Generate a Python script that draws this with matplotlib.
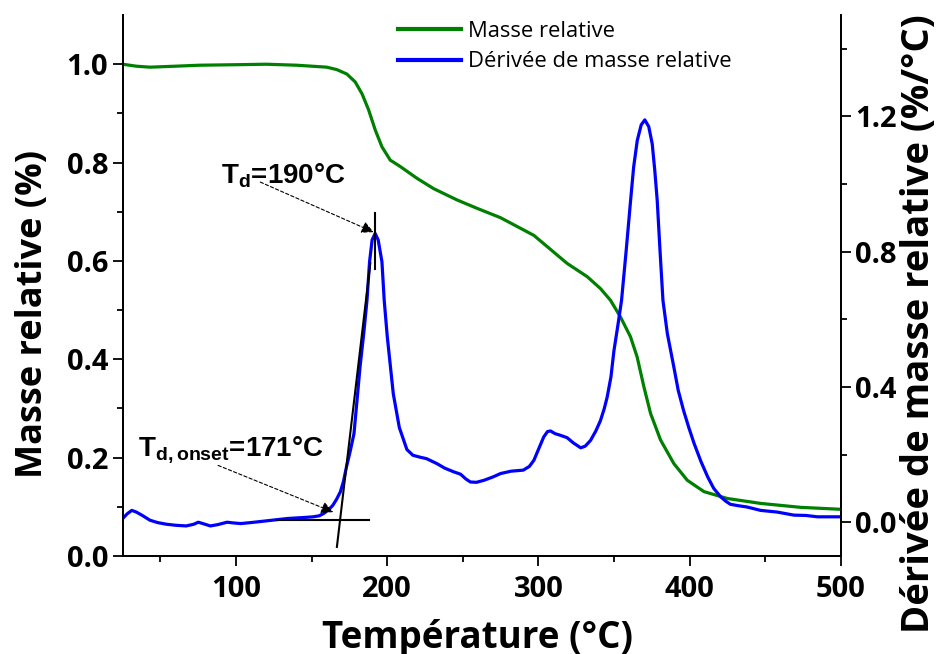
import matplotlib
matplotlib.use("Agg")
import matplotlib.pyplot as plt
from matplotlib.lines import Line2D

plt.rcParams['font.family'] = ['Open Sans', 'DejaVu Sans']
plt.rcParams['mathtext.fontset'] = 'custom'
plt.rcParams['mathtext.bf'] = 'Liberation Sans:bold'
plt.rcParams['mathtext.rm'] = 'Liberation Sans'

# masse relative (axe gauche)
temp_mass = [25, 34, 43, 60, 76, 100, 120, 140, 160, 166.7, 173.3, 178.8, 183.3, 187.7,
             192.1, 196.5, 202, 208.6, 219.7, 230.7, 246.2, 259.4, 274.9, 297, 319,
             332.3, 341, 347.7, 354.3, 360.9, 365.3, 369.8, 374.2, 380.8, 389.6, 398.5,
             409.5, 425, 447, 473.5, 500]
mass = [1.0, 0.996, 0.994, 0.996, 0.998, 0.999, 1.0, 0.998, 0.994, 0.989, 0.98, 0.964,
        0.94, 0.907, 0.866, 0.832, 0.805, 0.792, 0.768, 0.747, 0.724, 0.707, 0.688,
        0.652, 0.595, 0.568, 0.544, 0.52, 0.486, 0.446, 0.405, 0.344, 0.29, 0.236,
        0.188, 0.154, 0.131, 0.117, 0.107, 0.099, 0.095]

# derivee (axe droit)
temp_deriv = [25, 28, 31, 34, 38, 43, 48, 54, 60, 67, 72, 75, 78, 83, 88, 94, 98, 103,
              110, 120, 134, 145, 151, 155, 158, 161, 164, 166.5, 169, 171, 173, 175.5,
              178, 180, 182, 184.5, 186.6, 188.3, 190, 192, 194, 196.5, 198, 200, 204,
              208, 213, 217, 222, 226, 233, 238, 244, 248.5, 252, 255, 259, 264, 270,
              275, 282, 290, 294, 297, 300, 303.5, 306, 308, 311, 314.6, 319, 323, 328,
              331, 334.5, 338, 341, 343.5, 345.5, 348, 350, 352.5, 355, 358, 361, 363,
              365.4, 368, 370.4, 373, 375.3, 377, 378.6, 380.5, 382.4, 385.3, 389.6,
              392.5, 396, 399.5, 403, 407.5, 412, 416, 420.6, 424, 427, 432, 438, 447,
              458, 469, 477, 484.6, 500]
deriv = [0.011, 0.025, 0.035, 0.030, 0.02, 0.006, -0.001, -0.006, -0.009, -0.011, -0.006,
         0.0, -0.004, -0.011, -0.007, 0.0, -0.002, -0.004, -0.001, 0.004, 0.011, 0.014,
         0.016, 0.019, 0.026, 0.036, 0.05, 0.068, 0.09, 0.12, 0.163, 0.21, 0.262, 0.36,
         0.459, 0.56, 0.656, 0.77, 0.835, 0.854, 0.835, 0.77, 0.656, 0.55, 0.38, 0.28,
         0.215, 0.198, 0.192, 0.188, 0.173, 0.16, 0.149, 0.142, 0.128, 0.119, 0.118,
         0.124, 0.134, 0.144, 0.151, 0.154, 0.165, 0.183, 0.215, 0.252, 0.268, 0.27,
         0.262, 0.257, 0.25, 0.235, 0.22, 0.225, 0.242, 0.27, 0.30, 0.335, 0.37, 0.43,
         0.508, 0.58, 0.656, 0.80, 0.952, 1.05, 1.129, 1.175, 1.19, 1.17, 1.119, 1.04,
         0.952, 0.80, 0.656, 0.558, 0.459, 0.39, 0.331, 0.28, 0.233, 0.18, 0.134, 0.10,
         0.075, 0.062, 0.053, 0.049, 0.045, 0.035, 0.03, 0.021, 0.02, 0.016, 0.016]

# constructions graphiques (Td, onset)
base_x = [127, 188]
base_y = [0.008, 0.008]
tang_x = [166.7, 188.8]
tang_y = [-0.073, 0.766]
peak_x = [192, 192]
peak_y = [0.75, 0.915]

fig = plt.figure(figsize=(9.49, 6.54), dpi=100)
ax = fig.add_axes([0.1293, 0.1498, 0.7566, 0.8272])
ax2 = ax.twinx()

ax.plot(temp_mass, mass, color='green', lw=2.3)
ax2.plot(temp_deriv, deriv, color='blue', lw=2.3)
for xs, ys in [(base_x, base_y), (tang_x, tang_y), (peak_x, peak_y)]:
    ax2.plot(xs, ys, color='black', lw=1.5)

ax.set_xlim(25, 500)
ax.set_ylim(0, 1.1)
ax2.set_ylim(-0.1, 1.5)
ax.set_xticks([100, 200, 300, 400, 500])
ax.set_xticks([50, 150, 250, 350, 450], minor=True)
ax.set_yticks([0.0, 0.2, 0.4, 0.6, 0.8, 1.0])
ax.set_yticks([0.1, 0.3, 0.5, 0.7, 0.9], minor=True)
ax2.set_yticks([0.0, 0.4, 0.8, 1.2])
ax2.set_yticks([0.2, 0.6, 1.0, 1.4], minor=True)
ax.yaxis.set_major_formatter(matplotlib.ticker.FormatStrFormatter('%.1f'))
ax2.yaxis.set_major_formatter(matplotlib.ticker.FormatStrFormatter('%.1f'))

for a in (ax, ax2):
    a.spines['top'].set_visible(False)
    for s in a.spines.values():
        s.set_linewidth(1.3)
    a.tick_params(which='major', length=7, width=1.3, direction='out', labelsize=21)
    a.tick_params(which='minor', length=4, width=1.3, direction='out')
    for lab in a.get_xticklabels() + a.get_yticklabels():
        lab.set_fontweight('bold')
ax.tick_params(axis='x', which='major', pad=7)

ax.set_xlabel('Température (°C)', fontsize=26.5, fontweight='bold')
ax.set_ylabel('Masse relative (%)', fontsize=26, fontweight='bold')
ax2.set_ylabel('Dérivée de masse relative (%/°C)', fontsize=27.5, fontweight='bold')
ax.xaxis.set_label_coords(0.494, -0.116)
ax.yaxis.set_label_coords(-0.1, 0.447)
ax2.yaxis.set_label_coords(1.083, 0.43)

# annotations
ax2.annotate('', xy=(191, 0.858), xytext=(116, 1.006),
             arrowprops=dict(arrowstyle='-|>', color='black', lw=0.8,
                             linestyle=(0, (3, 2)), mutation_scale=18, shrinkA=0, shrinkB=0))
ax2.text(90.3, 1.003, r'$\mathbf{T_d}$=190°C', fontsize=20, fontweight='bold',
         family='Liberation Sans', va='baseline', ha='left')
ax2.annotate('', xy=(164.3, 0.03), xytext=(88.1, 0.168),
             arrowprops=dict(arrowstyle='-|>', color='black', lw=0.8,
                             linestyle=(0, (3, 2)), mutation_scale=18, shrinkA=0, shrinkB=0))
ax2.text(35.1, 0.198, r'$\mathbf{T_{d,onset}}$=171°C', fontsize=20, fontweight='bold',
         family='Liberation Sans', va='baseline', ha='left')

handles = [Line2D([], [], color='green', lw=3), Line2D([], [], color='blue', lw=3)]
fig.legend(handles, ['Masse relative', 'Dérivée de masse relative'],
           loc='upper left', bbox_to_anchor=(398 / 949, 1 - 21 / 654), frameon=False,
           fontsize=15.8, handlelength=2.85, handletextpad=0.32, labelspacing=0.42,
           borderpad=0, borderaxespad=0)

fig.savefig('out.png', dpi=100)
